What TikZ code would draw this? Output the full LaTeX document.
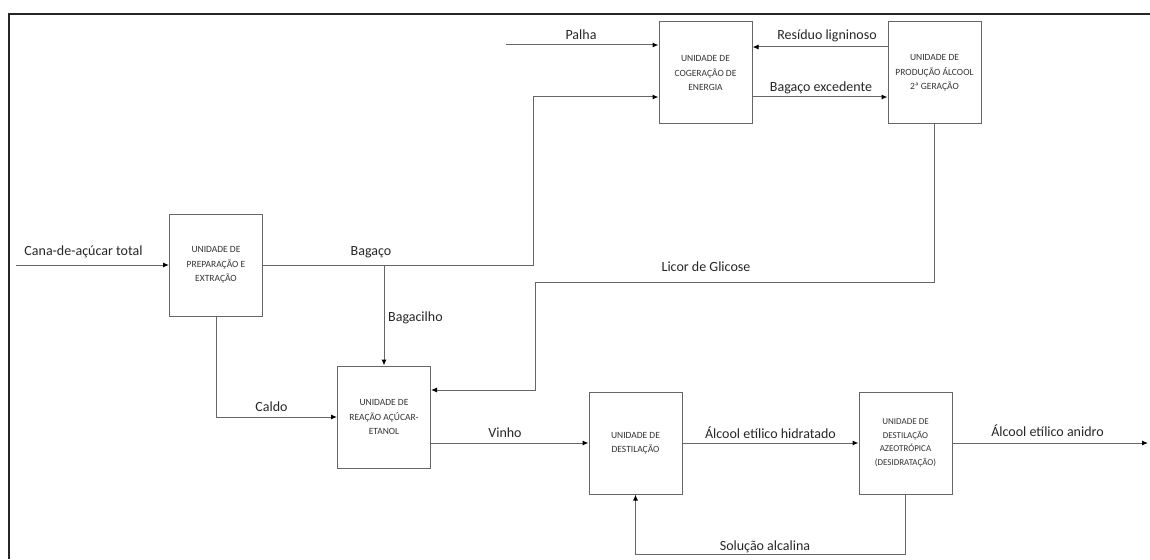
\documentclass[tikz,border=0pt]{standalone}
\usepackage{fontspec}
\setmainfont{Carlito}
\usetikzlibrary{arrows.meta,positioning}

\begin{document}
\begin{tikzpicture}[x=1pt, y=-1pt,
	unit/.style={draw=black!60, line width=1pt, minimum width=93pt, minimum height=102pt, inner sep=2pt, align=center, text=black!80, font=\fontsize{9.5}{14.4}\selectfont},
	flow/.style={draw=black!60, line width=1pt, -{Latex[length=6pt,width=5pt,black]}},
	lbl/.style={font=\fontsize{14}{16}\selectfont, text=black!85, inner sep=0pt}]
		\useasboundingbox (0,0) rectangle (1150,559);
		\draw[line width=1.2pt, black!85] (9,559) -- (9,14) -- (1150,14);

		% units
		\node[unit] (prep) at (216,265) {UNIDADE DE\\PREPARAÇÃO E\\EXTRAÇÃO};
		\node[unit] (cog) at (705.5,73) {UNIDADE DE\\COGERAÇÃO DE\\ENERGIA};
		\node[unit] (sg) at (934.5,73) {UNIDADE DE\\PRODUÇÃO ÁLCOOL\\2ª GERAÇÃO};
		\node[unit] (reac) at (384,417) {UNIDADE DE\\REAÇÃO AÇÚCAR-\\ETANOL};
		\node[unit] (dest) at (635.5,443) {UNIDADE DE\\DESTILAÇÃO};
		\node[unit, font=\fontsize{9}{13.5}\selectfont] (azeo) at (905.5,443) {UNIDADE DE\\DESTILAÇÃO\\AZEOTRÓPICA\\(DESIDRATAÇÃO)};

		\coordinate (cana) at (16,265);
		\coordinate (palha) at (506,45);
		\coordinate (bgup) at (533,97);
		\coordinate (lic) at (535,282);
		\coordinate (anidro) at (1148,443);

		% streams
		\draw[flow] (cana) -- (prep);
		\draw[flow] (prep.east) -| (bgup) -- (bgup -| cog.west);
		\draw[flow] (prep.east -| reac) -- (reac.north);
		\draw[flow] (palha) -- (palha -| cog.west);
		\draw[flow] ([yshift=26pt]sg.west) -- ([yshift=26pt]cog.east);
		\draw[flow] ([yshift=-24pt]cog.east) -- ([yshift=-24pt]sg.west);
		\draw[flow] (sg.south) |- (lic) |- ([yshift=27pt]reac.east);
		\draw[flow] (prep.south) |- (reac.west);
		\draw[flow] (reac.east |- dest) -- (dest.west);
		\draw[flow] (dest) -- (azeo);
		\draw[flow] (azeo) -- (anidro);
		\draw[flow] (azeo.south) |- ([yshift=-60pt]dest.south) -- (dest.south);

		% labels
		\node[lbl] (l1) at (83.5,252) {Cana-de-açúcar total};
		\node[lbl] (l2) at (371,252) {Bagaço};
		\node[lbl, anchor=west] (l3) at (388,318) {Bagacilho};
		\node[lbl] (l4) at (581,35) {Palha};
		\node[lbl] (l5) at (827,36) {Resíduo ligninoso};
		\node[lbl] (l6) at (821,88) {Bagaço excedente};
		\node[lbl] (l7) at (706,267) {Licor de Glicose};
		\node[lbl] (l8) at (271.5,407) {Caldo};
		\node[lbl] (l9) at (505,433) {Vinho};
		\node[lbl] (l10) at (770.5,433) {Álcool etílico hidratado};
		\node[lbl] (l11) at (1047.5,431) {Álcool etílico anidro};
		\node[lbl] (l12) at (765,547) {Solução alcalina};
	\end{tikzpicture}
\end{document}
